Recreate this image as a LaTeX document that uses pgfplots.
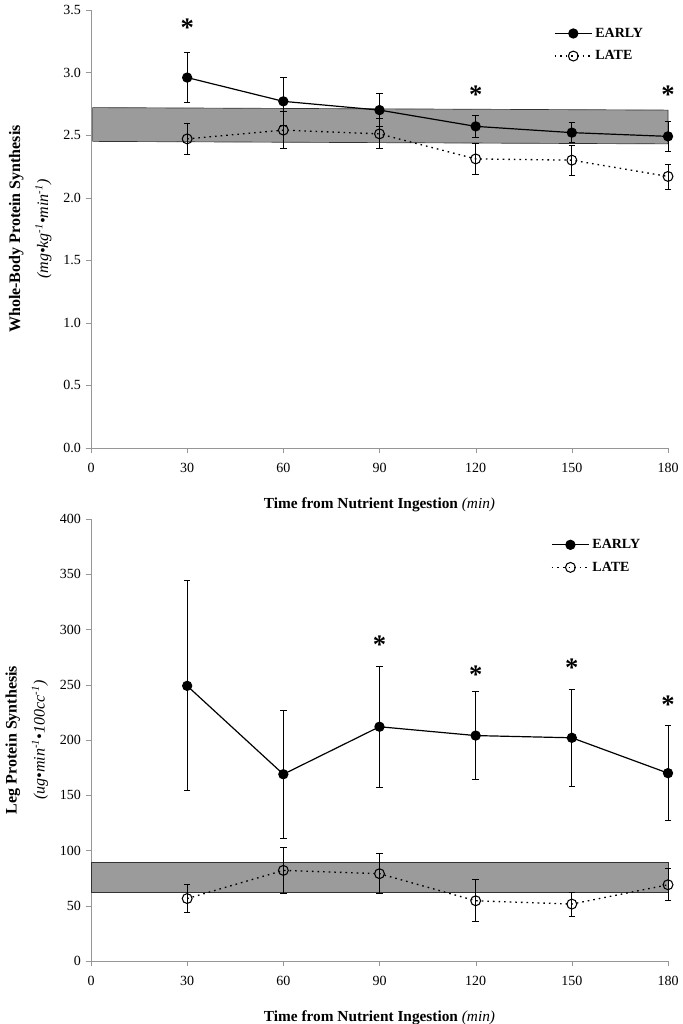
\documentclass[border=0pt]{standalone}
\usepackage{fontspec}
\setmainfont{Liberation Serif}
\usepackage{pgfplots}
\pgfplotsset{compat=1.18}

\definecolor{bandgray}{RGB}{155,155,155}
\definecolor{axgray}{RGB}{150,150,150}

\pgfplotsset{
 myaxis/.style={
  scale only axis, width=432.75pt,
  xmin=0, xmax=180, xtick={0,30,...,180},
  axis lines=left, axis line style={axgray,-},
  tick style={axgray}, tick align=outside, major tick length=4pt,
  tick label style={font=\fontsize{10.5}{12}\selectfont},
  xticklabel style={yshift=-4pt},
  /pgf/number format/assume math mode=true,
  xlabel={\textbf{Time from Nutrient Ingestion} \textit{(min)}},
  xlabel style={font=\fontsize{11.5}{13}\selectfont, yshift=-12pt},
  ylabel style={font=\fontsize{12}{14}\selectfont, align=center, yshift=2pt},
  legend style={draw=none, fill=none, font=\fontsize{10.5}{12}\selectfont\bfseries, anchor=north west, row sep=4.5pt},
  legend cell align=left,
  legend image code/.code={\draw[mark repeat=2,mark phase=2,##1] plot coordinates {(0pt,0pt) (14pt,0pt) (28pt,0pt)};},
  clip=false,
 },
 early/.style={black, line width=0.9pt, mark=*, mark size=3.4pt, mark options={solid, fill=black},
   error bars/.cd, y dir=both, y explicit, error bar style={line width=0.6pt, black, solid},
   error mark options={rotate=90, mark size=2.4pt, line width=0.6pt, black}},
 late/.style={black, line width=1pt, dash pattern=on 1.2pt off 3pt, mark=o, mark size=3.7pt, mark options={solid, fill=white, line width=0.8pt},
   error bars/.cd, y dir=both, y explicit, error bar style={line width=0.6pt, black, solid},
   error mark options={rotate=90, mark size=2.4pt, line width=0.6pt, black}},
 stars/.style={draw=none, mark=none, forget plot,
   nodes near coords={\fontsize{20}{20}\selectfont\bfseries *},
   every node near coord/.append style={anchor=center, inner sep=0pt, text depth=0pt}},
}

\begin{document}
\begin{tikzpicture}
\useasboundingbox (0,0) rectangle (511.5pt,768pt);

% ---------- Top panel ----------
\begin{axis}[myaxis,
  at={(68.25pt,432pt)}, anchor=origin,
  height=328.5pt,
  ymin=0, ymax=3.5, ytick={0,0.5,...,3.5},
  yticklabel style={/pgf/number format/.cd, fixed, fixed zerofill, precision=1},
  ylabel={\textbf{Whole-Body Protein Synthesis}\\[7pt]\textit{(mg•kg\textsuperscript{-1}•min\textsuperscript{-1})}},
  legend style={at={(0.795,0.972)}},
]
\addplot[fill=bandgray, draw=black!80, line width=0.5pt, forget plot]
  coordinates {(0.5,2.45) (180,2.43) (180,2.70) (0.5,2.72) (0.5,2.45)};
\addplot[early] coordinates {
  (30,2.96) +- (0,0.20)
  (60,2.77) +- (0,0.19)
  (90,2.70) +- (0,0.13)
  (120,2.57) +- (0,0.09)
  (150,2.52) +- (0,0.08)
  (180,2.49) +- (0,0.12)
};
\addlegendentry{EARLY}
\addplot[late] coordinates {
  (30,2.47) +- (0,0.12)
  (60,2.54) +- (0,0.15)
  (90,2.51) +- (0,0.12)
  (120,2.31) +- (0,0.12)
  (150,2.30) +- (0,0.12)
  (180,2.17) +- (0,0.10)
};
\addlegendentry{LATE}
\addplot[stars] coordinates {(30,3.36) (120,2.82) (180,2.82)};
\end{axis}

% ---------- Bottom panel ----------
\begin{axis}[myaxis,
  at={(68.25pt,47.25pt)}, anchor=origin,
  height=331.5pt,
  ymin=0, ymax=400, ytick={0,50,...,400},
  ylabel={\textbf{Leg Protein Synthesis}\\[7pt]\textit{(ug•min\textsuperscript{-1}•100cc\textsuperscript{-1})}},
  legend style={at={(0.79,0.967)}},
]
\addplot[fill=bandgray, draw=black!80, line width=0.5pt, forget plot]
  coordinates {(0,62.5) (180,62.5) (180,89.5) (0,89.5) (0,62.5)};
\addplot[early] coordinates {
  (30,249) +- (0,95)
  (60,169) +- (0,58)
  (90,212) +- (0,55)
  (120,204) +- (0,40)
  (150,202) +- (0,44)
  (180,170) +- (0,43)
};
\addlegendentry{EARLY}
\addplot[late] coordinates {
  (30,56.5) +- (0,12.5)
  (60,82) +- (0,21)
  (90,79) +- (0,18)
  (120,54.5) +- (0,19)
  (150,51.5) +- (0,11)
  (180,69) +- (0,14.5)
};
\addlegendentry{LATE}
\addplot[stars] coordinates {(90,286) (120,259) (150,265) (180,232)};
\end{axis}
\end{tikzpicture}
\end{document}
